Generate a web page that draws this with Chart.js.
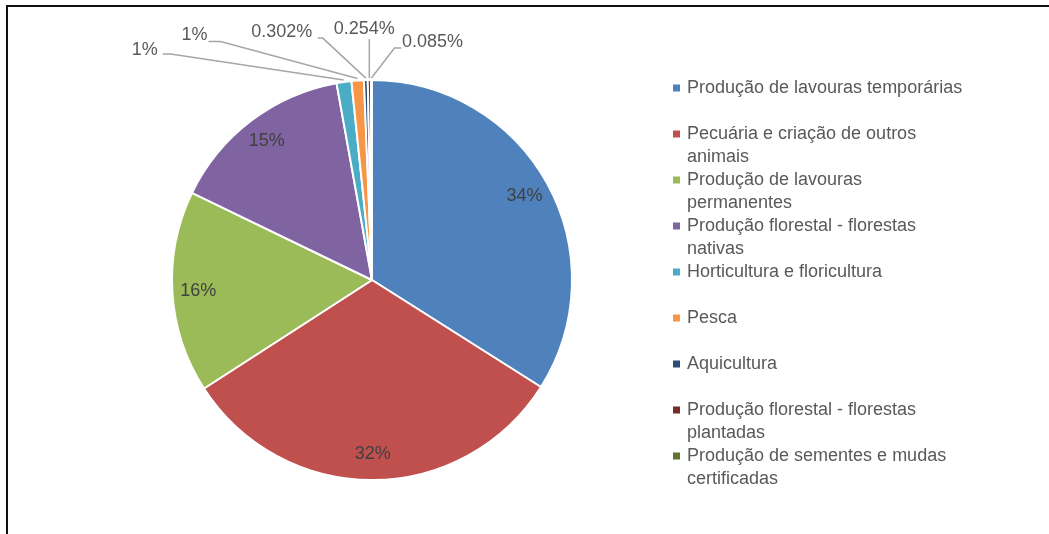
<!DOCTYPE html>
<html>
<head>
<meta charset="utf-8">
<script src="https://cdn.jsdelivr.net/npm/chart.js@4"></script>
<style>
  html, body { margin: 0; padding: 0; background: #fff; }
  #wrap { position: relative; width: 1049px; height: 534px; overflow: hidden; }
  #frame { position: absolute; left: 6px; top: 5px; right: -10px; bottom: -10px;
           border-top: 2px solid #111; border-left: 2px solid #111; }
  #chart { position: absolute; left: 0; top: 0; }
</style>
</head>
<body>
<div id="wrap">
  <div id="frame"></div>
  <canvas id="chart" width="1049" height="534"></canvas>
</div>
<script>
/* Data */
const categories = [
  'Produção de lavouras temporárias',
  'Pecuária e criação de outros animais',
  'Produção de lavouras permanentes',
  'Produção florestal - florestas nativas',
  'Horticultura e floricultura',
  'Pesca',
  'Aquicultura',
  'Produção florestal - florestas plantadas',
  'Produção de sementes e mudas certificadas'
];
const shares = [34.0, 31.9, 16.3, 15.0, 1.2, 1.0, 0.302, 0.254, 0.085];
const colors = ['#4F81BD', '#C0504D', '#9BBB59', '#8064A2', '#4BACC6',
                '#F79646', '#2C4D75', '#772C2A', '#5F7530'];

/* Style */
const FONT = '18px "Liberation Sans", Arial, sans-serif';
const TEXT_IN = '#404040';
const TEXT_OUT = '#595959';
const LEADER = '#A6A6A6';

// leader lines for the small slices: elbow, line end, text centre (offsets from slice edge)
const leaders = [
  null, null, null, null,
  { elbow: [-173, -26], end: [-181, -26], text: [-199, -30] },
  { elbow: [-137, -37], end: [-149, -37], text: [-163, -43] },
  { elbow: [-43, -40],  end: [-48, -40],  text: [-84, -46] },
  { elbow: [0, -39],    end: [0, -39],    text: [-5, -49] },
  { elbow: [23, -30],   end: [30, -30],   text: [61, -36] }
];

function fmtShare(v) {
  return v >= 1 ? Math.round(v) + '%' : v.toFixed(3) + '%';
}

function wrapText(ctx, text, maxW) {
  const words = text.split(' ');
  const lines = [];
  let line = '';
  words.forEach(w => {
    const t = line ? line + ' ' + w : w;
    if (ctx.measureText(t).width > maxW && line) {
      lines.push(line);
      line = w;
    } else {
      line = t;
    }
  });
  lines.push(line);
  return lines;
}

/* Slice labels */
const sliceLabels = {
  id: 'sliceLabels',
  afterDatasetsDraw(chart) {
    const ctx = chart.ctx;
    const meta = chart.getDatasetMeta(0);
    ctx.save();
    ctx.font = FONT;
    ctx.textAlign = 'center';
    ctx.textBaseline = 'middle';
    meta.data.forEach((arc, i) => {
      const p = arc.getProps(['x', 'y', 'startAngle', 'endAngle', 'outerRadius'], true);
      const mid = (p.startAngle + p.endAngle) / 2;
      const text = fmtShare(shares[i]);
      const lead = leaders[i];
      if (!lead) {
        const r = p.outerRadius * 0.87;
        ctx.fillStyle = TEXT_IN;
        ctx.fillText(text, p.x + Math.cos(mid) * r, p.y + Math.sin(mid) * r);
      } else {
        const r = p.outerRadius + 2;
        const ex = p.x + Math.cos(mid) * r;
        const ey = p.y + Math.sin(mid) * r;
        ctx.strokeStyle = LEADER;
        ctx.lineWidth = 1.5;
        ctx.beginPath();
        ctx.moveTo(ex, ey);
        ctx.lineTo(ex + lead.elbow[0], ey + lead.elbow[1]);
        ctx.lineTo(ex + lead.end[0], ey + lead.end[1]);
        ctx.stroke();
        ctx.fillStyle = TEXT_OUT;
        ctx.fillText(text, ex + lead.text[0], ey + lead.text[1]);
      }
    });
    ctx.restore();
  }
};

/* Legend on the right */
const sideLegend = {
  id: 'sideLegend',
  afterDraw(chart) {
    const ctx = chart.ctx;
    const x0 = 673, y0 = 88, step = 46, lineH = 23;
    ctx.save();
    ctx.font = FONT;
    ctx.textAlign = 'left';
    ctx.textBaseline = 'middle';
    categories.forEach((c, i) => {
      const y = y0 + i * step;
      ctx.fillStyle = colors[i];
      ctx.fillRect(x0, y - 3.5, 7, 7);
      ctx.fillStyle = TEXT_OUT;
      wrapText(ctx, c, 280).forEach((ln, k) => {
        ctx.fillText(ln, x0 + 14, y + k * lineH);
      });
    });
    ctx.restore();
  }
};

new Chart(document.getElementById('chart'), {
  type: 'pie',
  data: {
    labels: categories,
    datasets: [{
      data: shares,
      backgroundColor: colors,
      borderColor: '#ffffff',
      borderWidth: 2
    }]
  },
  options: {
    responsive: false,
    animation: false,
    devicePixelRatio: 1,
    layout: { padding: { left: 171, top: 79, right: 476, bottom: 53 } },
    plugins: {
      legend: { display: false },
      tooltip: { enabled: false }
    }
  },
  plugins: [sliceLabels, sideLegend]
});
</script>
</body>
</html>
